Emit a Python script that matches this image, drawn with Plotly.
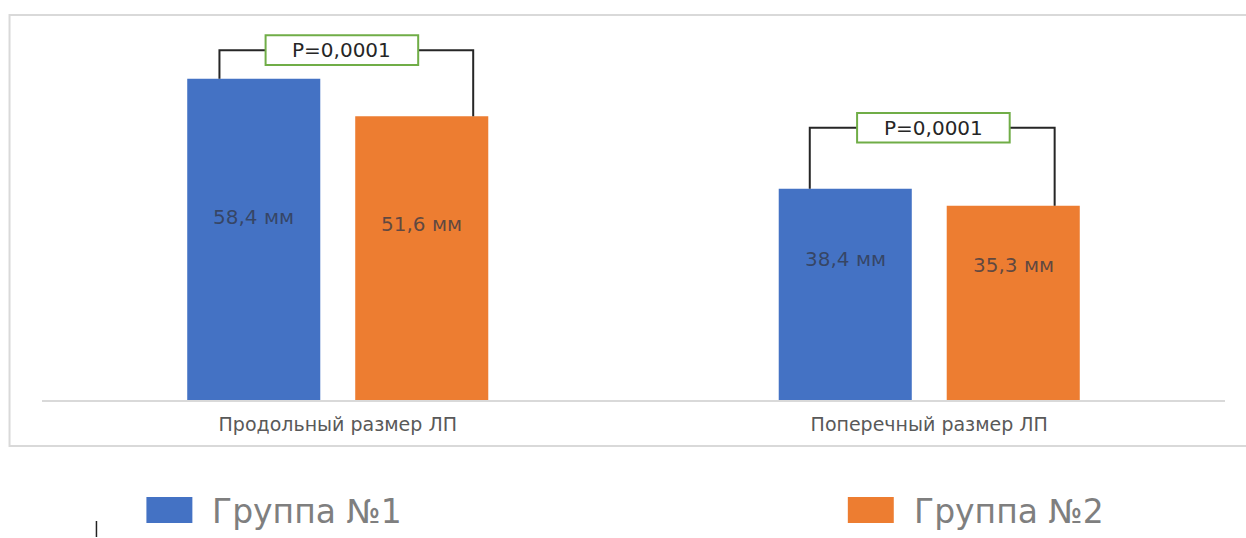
import plotly.graph_objects as go

# Data
categories = ["Продольный размер ЛП", "Поперечный размер ЛП"]
group1 = [58.4, 38.4]
group2 = [51.6, 35.3]
series_names = ["Группа №1", "Группа №2"]
p_values = ["P=0,0001", "P=0,0001"]

# Styling / placement
BLUE = "#4472C4"
ORANGE = "#ED7D31"
GREEN = "#70AD47"
FONT = "DejaVu Sans"
label_y_frac = [[0.57, 0.62], [0.67, 0.695]]   # label height as fraction of bar
bracket_pad = [5.2, 11.1]                       # bracket above the taller bar
bracket_x = [(-0.200, 0.229), (-0.202, 0.212)]  # offsets from category centre
box_half = 0.129                                # half width of p-value box
box_half_h = 2.7

fig = go.Figure()
fig.add_trace(go.Bar(x=categories, y=group1, name=series_names[0],
                     marker=dict(color=BLUE, line=dict(width=0)), showlegend=False))
fig.add_trace(go.Bar(x=categories, y=group2, name=series_names[1],
                     marker=dict(color=ORANGE, line=dict(width=0)), showlegend=False))

bargap = 0.432
bargroupgap = 0.208
slot = (1 - bargap) / 2
bar_offsets = [-slot / 2, slot / 2]

shapes = []
annotations = []
for i, cat in enumerate(categories):
    vals = [group1[i], group2[i]]
    # value labels inside bars
    for j, v in enumerate(vals):
        annotations.append(dict(
            x=i + bar_offsets[j], y=v * label_y_frac[i][j], xref="x", yref="y",
            text=f"{v:.1f}".replace(".", ",") + " мм", showarrow=False,
            font=dict(family=FONT, size=20, color="rgba(50,55,70,0.75)")))
    # significance bracket
    top = max(vals) + bracket_pad[i]
    xl, xr = i + bracket_x[i][0], i + bracket_x[i][1]
    shapes.append(dict(type="path", xref="x", yref="y",
                       path=f"M {xl},{vals[0]} L {xl},{top} L {xr},{top} L {xr},{vals[1]}",
                       line=dict(color="#262626", width=2)))
    bx = i + 0.007
    shapes.append(dict(type="rect", xref="x", yref="y",
                       x0=bx - box_half, x1=bx + box_half,
                       y0=top - box_half_h, y1=top + box_half_h,
                       fillcolor="white", line=dict(color=GREEN, width=2)))
    annotations.append(dict(x=bx, y=top, xref="x", yref="y", text=p_values[i],
                            showarrow=False,
                            font=dict(family=FONT, size=20, color="#262626")))

# outer chart frame
shapes.append(dict(type="rect", xref="paper", yref="paper",
                   x0=(9 - 41.5) / 1184, x1=1.05,
                   y0=(400 - 446) / 385, y1=(400 - 15) / 385,
                   line=dict(color="#d9d9d9", width=2), fillcolor="rgba(0,0,0,0)",
                   layer="below"))

# legend drawn below the frame
legend_pos = [146, 848]
legend_colors = [BLUE, ORANGE]
for k, name in enumerate(series_names):
    x0 = legend_pos[k]
    shapes.append(dict(type="rect", xref="paper", yref="paper",
                       x0=(x0 - 41.5) / 1184, x1=(x0 + 46 - 41.5) / 1184,
                       y0=(400 - 523) / 385, y1=(400 - 497) / 385,
                       fillcolor=legend_colors[k], line=dict(width=0)))
    annotations.append(dict(x=(x0 + 64 - 41.5) / 1184, y=(400 - 511) / 385,
                            xref="paper", yref="paper", xanchor="left",
                            yanchor="middle", text=name, showarrow=False,
                            font=dict(family=FONT, size=33, color="#7f7f7f")))

# text cursor mark
shapes.append(dict(type="line", xref="paper", yref="paper",
                   x0=(96 - 41.5) / 1184, x1=(96 - 41.5) / 1184,
                   y0=(400 - 537) / 385, y1=(400 - 521) / 385,
                   line=dict(color="#222", width=1.5)))

fig.update_layout(
    width=1246, height=538,
    margin=dict(l=41.5, r=20.5, t=15, b=138),
    paper_bgcolor="white", plot_bgcolor="white",
    barmode="group", bargap=bargap, bargroupgap=bargroupgap,
    shapes=shapes, annotations=annotations,
    showlegend=False,
    font=dict(family=FONT),
)
fig.update_xaxes(showline=True, linecolor="#d9d9d9", linewidth=2,
                 showgrid=False, ticks="", fixedrange=True, ticklabelstandoff=6,
                 tickfont=dict(family=FONT, size=19, color="#595959"))
fig.update_yaxes(range=[0, 70], visible=False, showgrid=False, fixedrange=True)

fig.write_html("out.html")
